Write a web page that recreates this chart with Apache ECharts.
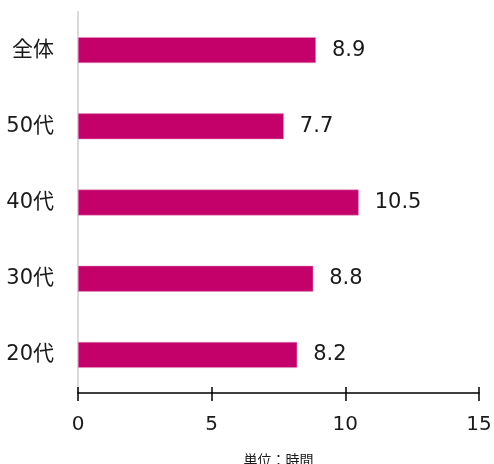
<!DOCTYPE html>
<html>
<head>
<meta charset="utf-8">
<script src="https://cdn.jsdelivr.net/npm/echarts@6/dist/echarts.min.js"></script>
<style>
  html, body { margin: 0; padding: 0; background: #fff; }
  #chart { width: 494px; height: 464px; }
</style>
</head>
<body>
<div id="chart"></div>
<script>
// カテゴリ（下から上へ）
const categories = ['20代', '30代', '40代', '50代', '全体']
const hours = [8.2, 8.8, 10.5, 7.7, 8.9]
const xTicks = [0, 5, 10, 15]

const font = '"DejaVu Sans", "Noto Sans CJK JP", sans-serif'
const barColor = '#C4006A'

const myChart = echarts.init(document.getElementById('chart'))
const option = {
  animation: false,
  grid: { left: 78, right: 15, top: 12, bottom: 71, outerBoundsMode: 'none' },
  xAxis: [{
    type: 'value',
    min: xTicks[0],
    max: xTicks[xTicks.length - 1],
    interval: 5,
    name: '単位：時間',
    nameLocation: 'middle',
    nameGap: 61,
    nameTextStyle: { fontSize: 14, color: '#1a1a1a', fontFamily: font },
    axisLine: { show: true, lineStyle: { color: '#000', width: 1.5 } },
    axisTick: { show: true, length: 8, lineStyle: { color: '#000', width: 1.5 } },
    axisLabel: { fontSize: 20, color: '#1a1a1a', fontFamily: font, margin: 22 },
    splitLine: { show: false }
  }, {
    // 上向きの目盛り用
    type: 'value',
    position: 'bottom',
    min: xTicks[0],
    max: xTicks[xTicks.length - 1],
    interval: 5,
    axisLine: { show: false },
    axisTick: { show: true, inside: true, length: 6, lineStyle: { color: '#000', width: 1.5 } },
    axisLabel: { show: false },
    splitLine: { show: false }
  }],
  yAxis: {
    type: 'category',
    data: categories,
    axisLine: { show: true, lineStyle: { color: '#d9d9d9', width: 2 } },
    axisTick: { show: false },
    axisLabel: { fontSize: 21, color: '#1a1a1a', fontFamily: font, margin: 24 }
  },
  series: [{
    type: 'bar',
    data: hours,
    barWidth: '34%',
    itemStyle: { color: barColor, borderColor: '#e59ac0', borderWidth: 0.5 },
    label: {
      show: true,
      position: 'right',
      distance: 16,
      fontSize: 21,
      color: '#1a1a1a',
      fontFamily: font
    }
  }]
}
myChart.setOption(option)
</script>
</body>
</html>
